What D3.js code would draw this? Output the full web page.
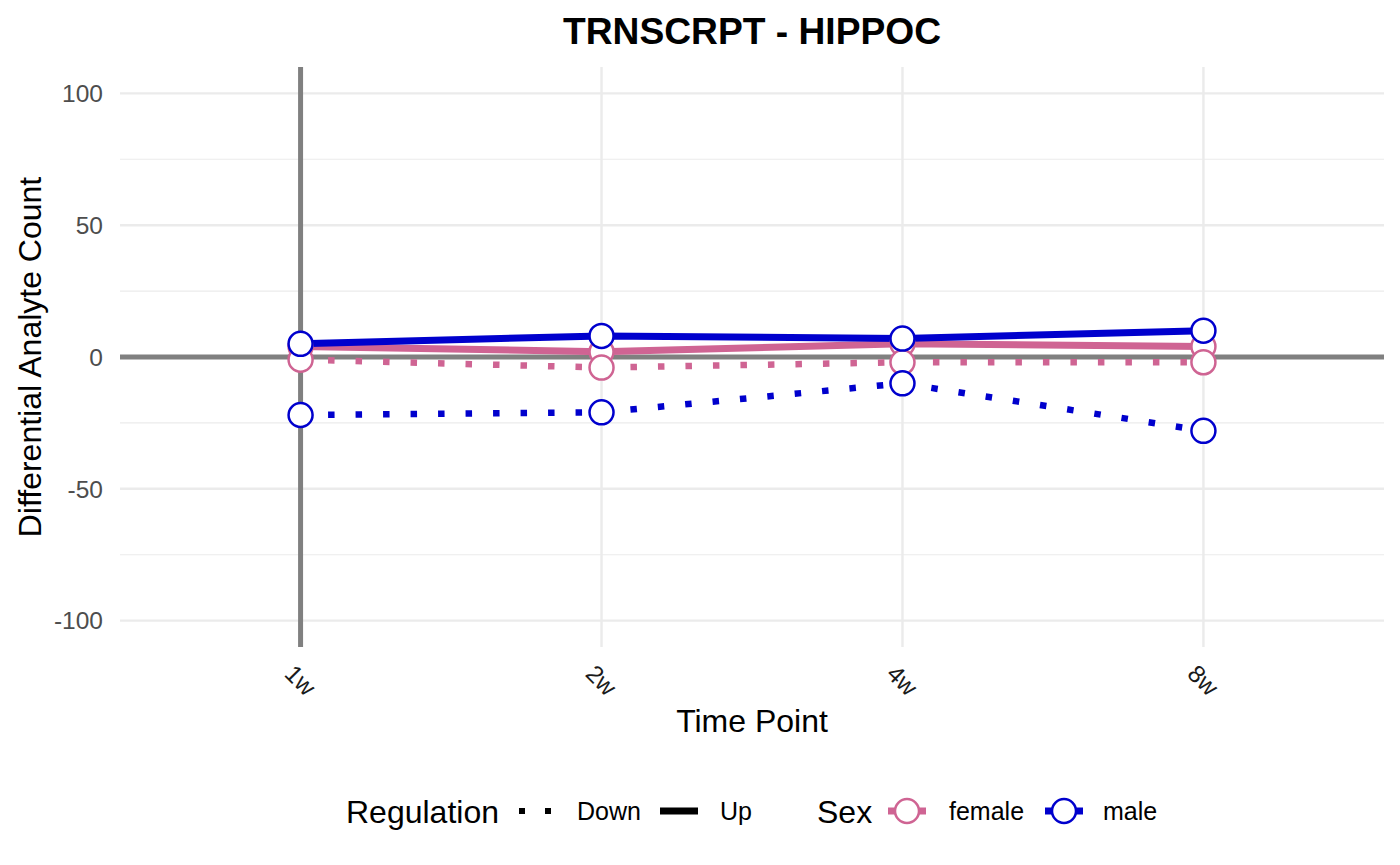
<!DOCTYPE html>
<html><head><meta charset="utf-8">
<script src="https://cdn.jsdelivr.net/npm/d3@7"></script>
<style>body{margin:0;background:#fff;font-family:"Liberation Sans",Arial,Helvetica,sans-serif;}</style>
</head><body><svg id="c" width="1400" height="865"></svg>
<script>
const timePoints = ["1w","2w","4w","8w"];
const femaleUp = [4, 2, 5, 4];
const femaleDown = [-1, -4, -2, -2];
const maleUp = [5, 8, 7, 10];
const maleDown = [-22, -21, -10, -28];
const yTicks = [-100, -50, 0, 50, 100];
const yMinor = [-75, -25, 25, 75];
const sexColors = {female: "#cf6493", male: "#0000cd"};

const series = [
  {sex:"female", reg:"Up", values: femaleUp},
  {sex:"female", reg:"Down", values: femaleDown},
  {sex:"male", reg:"Up", values: maleUp},
  {sex:"male", reg:"Down", values: maleDown}
];

const svg = d3.select("#c");
const L = 120, R = 1384, T = 67, B = 647;
const x = d3.scalePoint().domain(timePoints).range([L, R]).padding(0.6);
const y = d3.scaleLinear().domain([-110, 110]).range([B, T]);
const DOT = "6.5,21";

// grid
const g = svg.append("g");
g.selectAll(".ymin").data(yMinor).enter().append("line")
  .attr("x1", L).attr("x2", R).attr("y1", d=>y(d)).attr("y2", d=>y(d))
  .attr("stroke", "#ebebeb").attr("stroke-width", 1.2);
g.selectAll(".ymaj").data(yTicks).enter().append("line")
  .attr("x1", L).attr("x2", R).attr("y1", d=>y(d)).attr("y2", d=>y(d))
  .attr("stroke", "#ebebeb").attr("stroke-width", 2.4);
g.selectAll(".xmaj").data(timePoints).enter().append("line")
  .attr("x1", d=>x(d)).attr("x2", d=>x(d)).attr("y1", T).attr("y2", B)
  .attr("stroke", "#ebebeb").attr("stroke-width", 2.4);

// reference lines
g.append("line").attr("x1", L).attr("x2", R).attr("y1", y(0)).attr("y2", y(0))
  .attr("stroke", "#808080").attr("stroke-width", 5);
g.append("line").attr("x1", x("1w")).attr("x2", x("1w")).attr("y1", T).attr("y2", B)
  .attr("stroke", "#808080").attr("stroke-width", 5);

// y axis labels
svg.append("g").selectAll("text").data(yTicks).enter().append("text")
  .attr("x", 103).attr("y", d=>y(d)).attr("dy", "0.36em").attr("text-anchor", "end")
  .attr("font-size", 24.5).attr("fill", "#4d4d4d").text(d=>d);

// x axis labels
svg.append("g").selectAll("text").data(timePoints).enter().append("text")
  .attr("transform", d=>`translate(${x(d)},${680}) rotate(45)`)
  .attr("text-anchor", "middle").attr("dy", "0.36em")
  .attr("font-size", 24.5).attr("fill", "#1a1a1a").text(d=>d);

// titles
svg.append("text").attr("x", 752).attr("y", 44).attr("text-anchor", "middle")
  .attr("font-size", 37.2).attr("font-weight", "bold").text("TRNSCRPT - HIPPOC");
svg.append("text").attr("x", 752).attr("y", 732).attr("text-anchor", "middle")
  .attr("font-size", 32).text("Time Point");
svg.append("text").attr("transform", `translate(41,${y(0)}) rotate(-90)`).attr("text-anchor", "middle")
  .attr("font-size", 32).text("Differential Analyte Count");

// lines
const line = d3.line().x((d,i)=>x(timePoints[i])).y(d=>y(d));
const lg = svg.append("g");
series.forEach(s => {
  lg.append("path").attr("d", line(s.values)).attr("fill", "none")
    .attr("stroke", sexColors[s.sex])
    .attr("stroke-width", s.reg === "Up" ? 7 : 6.5)
    .attr("stroke-dasharray", s.reg === "Up" ? null : DOT);
});
// points
series.forEach(s => {
  lg.selectAll(null).data(s.values).enter().append("circle")
    .attr("cx", (d,i)=>x(timePoints[i])).attr("cy", d=>y(d)).attr("r", 12)
    .attr("fill", "#fff").attr("stroke", sexColors[s.sex]).attr("stroke-width", 2.5);
});

// legend
const leg = svg.append("g");
const ly = 811;
leg.append("text").attr("x", 346).attr("y", ly).attr("dy", "0.36em").attr("font-size", 32).text("Regulation");
leg.append("line").attr("x1", 519).attr("x2", 555).attr("y1", ly).attr("y2", ly)
  .attr("stroke", "#000").attr("stroke-width", 6).attr("stroke-dasharray", "6,20");
leg.append("text").attr("x", 577).attr("y", ly).attr("dy", "0.36em").attr("font-size", 25).text("Down");
leg.append("line").attr("x1", 660).attr("x2", 698).attr("y1", ly).attr("y2", ly)
  .attr("stroke", "#000").attr("stroke-width", 7);
leg.append("text").attr("x", 720).attr("y", ly).attr("dy", "0.36em").attr("font-size", 25).text("Up");
leg.append("text").attr("x", 817).attr("y", ly).attr("dy", "0.36em").attr("font-size", 32).text("Sex");
[["female", 907, 949], ["male", 1064, 1103]].forEach(([k, cx, tx]) => {
  leg.append("line").attr("x1", cx-19).attr("x2", cx+19).attr("y1", ly).attr("y2", ly)
    .attr("stroke", sexColors[k]).attr("stroke-width", 7);
  leg.append("circle").attr("cx", cx).attr("cy", ly).attr("r", 12)
    .attr("fill", "#fff").attr("stroke", sexColors[k]).attr("stroke-width", 2.5);
  leg.append("text").attr("x", tx).attr("y", ly).attr("dy", "0.36em").attr("font-size", 25).text(k);
});
</script></body></html>
